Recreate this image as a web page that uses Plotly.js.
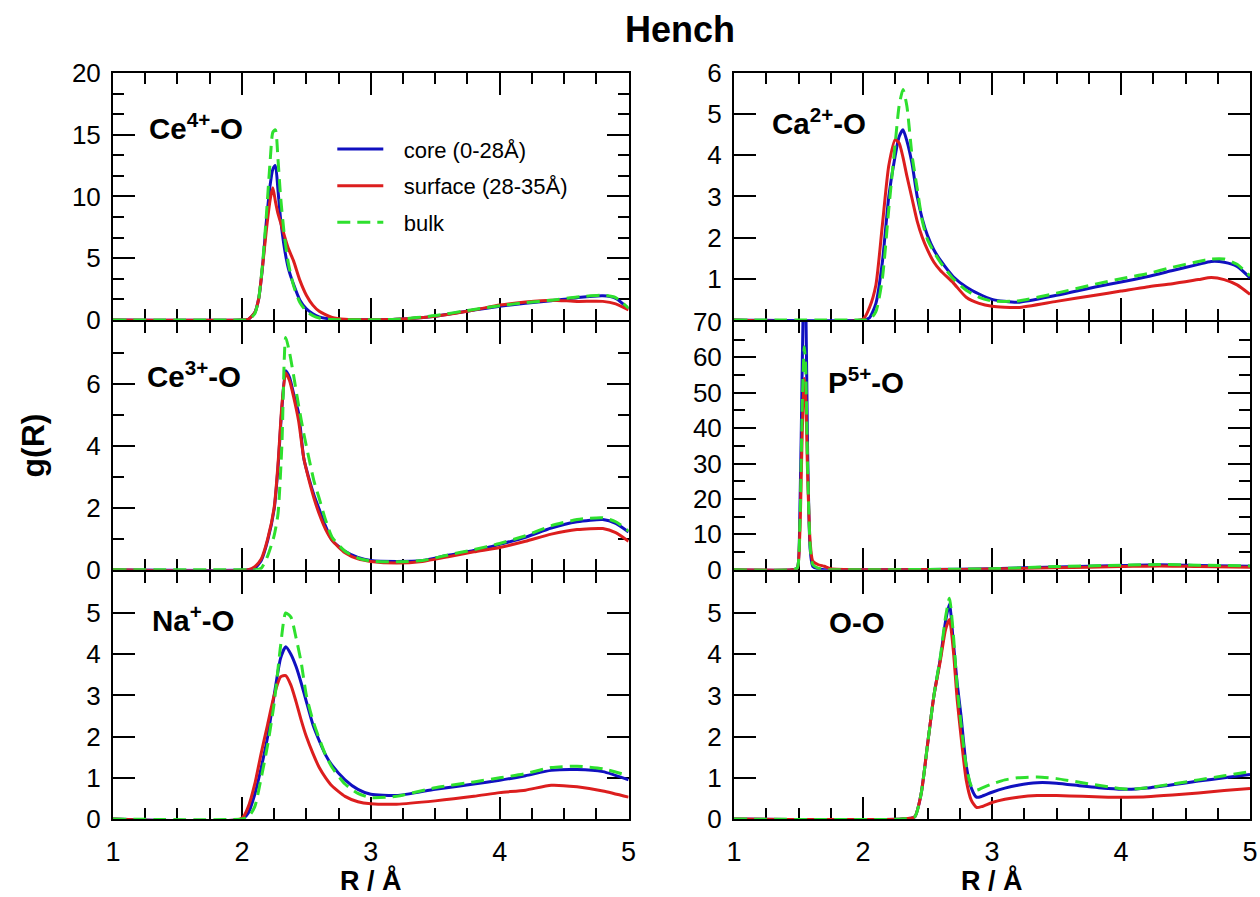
<!DOCTYPE html>
<html><head><meta charset="utf-8">
<script src="https://cdn.plot.ly/plotly-3.0.1.min.js"></script>
<style>html,body{margin:0;padding:0;background:#fff}#chart{width:1260px;height:897px}</style>
</head><body><div id="chart"></div>
<script>
// ---------- DATA ----------
const seriesNames = ['core (0-28Å)', 'surface (28-35Å)', 'bulk'];
const panelLabels = ['<b>Ce<sup>4+</sup>-O</b>', '<b>Ca<sup>2+</sup>-O</b>', '<b>Ce<sup>3+</sup>-O</b>', '<b>P<sup>5+</sup>-O</b>', '<b>Na<sup>+</sup>-O</b>', '<b>O-O</b>'];

// Ce4+-O
const ce4_r    = [1.0, 2.0, 2.05, 2.1, 2.13, 2.16, 2.19, 2.22, 2.24, 2.26, 2.28, 2.3, 2.33, 2.36, 2.4, 2.45, 2.5, 2.55, 2.6, 2.7, 2.8, 3.0, 3.2, 3.5, 3.8, 4.0, 4.2, 4.4, 4.6, 4.8, 4.9, 5.0];
const ce4_core = [0, 0, 0.05, 0.6, 1.7, 4.3, 8.0, 11.0, 12.2, 12.5, 10.5, 8.2, 5.8, 4.2, 2.9, 1.6, 0.9, 0.5, 0.25, 0.06, 0.02, 0.01, 0.05, 0.3, 0.8, 1.1, 1.35, 1.55, 1.8, 1.95, 1.75, 0.9];
const ce4_surf = [0, 0, 0.05, 0.6, 1.7, 4.3, 7.3, 9.8, 10.7, 9.6, 8.6, 7.9, 6.8, 5.8, 4.8, 3.2, 2.0, 1.2, 0.7, 0.2, 0.05, 0.02, 0.05, 0.3, 0.8, 1.2, 1.45, 1.6, 1.5, 1.5, 1.3, 0.8];
const ce4_bulk = [0, 0, 0.02, 0.5, 1.7, 4.5, 8.5, 13.0, 15.2, 15.4, 13.0, 10.0, 6.8, 4.6, 2.8, 1.4, 0.7, 0.35, 0.15, 0.03, 0.01, 0.01, 0.05, 0.35, 0.85, 1.15, 1.4, 1.6, 1.85, 2.0, 1.8, 0.95];

// Ca2+-O
const ca_r    = [1.0, 2.0, 2.05, 2.1, 2.15, 2.2, 2.25, 2.28, 2.31, 2.34, 2.38, 2.42, 2.46, 2.5, 2.55, 2.6, 2.7, 2.8, 2.9, 3.0, 3.2, 3.5, 3.8, 4.0, 4.2, 4.4, 4.6, 4.7, 4.8, 4.9, 5.0];
const ca_core = [0, 0, 0.05, 0.4, 1.4, 3.0, 4.0, 4.45, 4.62, 4.35, 3.8, 3.0, 2.45, 2.05, 1.7, 1.45, 1.05, 0.8, 0.63, 0.5, 0.43, 0.6, 0.8, 0.92, 1.05, 1.2, 1.35, 1.42, 1.4, 1.3, 1.02];
const ca_surf = [0, 0.02, 0.3, 0.85, 2.3, 3.75, 4.38, 4.3, 3.95, 3.5, 2.95, 2.4, 2.0, 1.7, 1.4, 1.2, 0.9, 0.55, 0.4, 0.33, 0.3, 0.45, 0.6, 0.7, 0.8, 0.88, 0.98, 1.03, 0.98, 0.85, 0.62];
const ca_bulk = [0, 0, 0, 0.2, 1.0, 2.7, 4.3, 5.2, 5.6, 5.2, 4.0, 3.2, 2.4, 1.95, 1.65, 1.4, 1.0, 0.72, 0.55, 0.46, 0.46, 0.65, 0.87, 1.0, 1.12, 1.28, 1.42, 1.48, 1.48, 1.35, 1.07];

// Ce3+-O
const ce3_r    = [1.0, 2.05, 2.1, 2.15, 2.2, 2.25, 2.28, 2.31, 2.34, 2.37, 2.4, 2.44, 2.48, 2.52, 2.56, 2.6, 2.65, 2.7, 2.8, 2.9, 3.0, 3.2, 3.4, 3.6, 3.8, 4.0, 4.2, 4.4, 4.6, 4.8, 4.9, 5.0];
const ce3_core = [0, 0, 0.05, 0.3, 0.95, 1.95, 3.3, 5.2, 6.42, 6.2, 5.7, 5.05, 3.6, 2.95, 2.4, 1.95, 1.4, 0.95, 0.6, 0.4, 0.3, 0.27, 0.3, 0.47, 0.62, 0.82, 1.05, 1.35, 1.55, 1.62, 1.5, 1.22];
const ce3_surf = [0, 0, 0.1, 0.35, 1.0, 2.0, 3.4, 5.3, 6.35, 6.1, 5.6, 4.8, 3.6, 2.9, 2.3, 1.8, 1.3, 0.95, 0.55, 0.35, 0.27, 0.22, 0.27, 0.42, 0.58, 0.72, 0.92, 1.15, 1.3, 1.33, 1.2, 0.92];
const ce3_bulk = [0, 0, 0, 0.05, 0.45, 1.1, 1.8, 4.0, 7.5, 7.0, 6.3, 5.3, 4.4, 3.6, 2.85, 2.3, 1.6, 1.05, 0.6, 0.38, 0.28, 0.26, 0.3, 0.48, 0.65, 0.85, 1.1, 1.42, 1.62, 1.68, 1.55, 1.25];

// P5+-O
const p_r    = [1.0, 1.45, 1.49, 1.51, 1.53, 1.545, 1.555, 1.57, 1.59, 1.61, 1.65, 1.7, 1.75, 2.0, 2.5, 3.0, 3.5, 4.0, 4.3, 4.6, 5.0];
const p_core = [0, 0, 0.5, 15, 60, 88, 80, 35, 6, 1, 0.3, 0.05, 0, 0, 0.05, 0.3, 0.8, 1.2, 1.4, 1.2, 1.0];
const p_surf = [0, 0, 0.4, 10, 40, 54, 50, 28, 8, 2.5, 1.5, 1.0, 0.3, 0, 0.05, 0.2, 0.6, 0.9, 1.1, 0.9, 0.7];
const p_bulk = [0, 0, 0.5, 12, 48, 63, 58, 30, 7, 1.5, 0.5, 0.1, 0, 0, 0.1, 0.3, 0.9, 1.3, 1.5, 1.3, 1.1];

// Na+-O
const na_r    = [1.0, 2.0, 2.05, 2.1, 2.15, 2.2, 2.25, 2.3, 2.34, 2.38, 2.42, 2.46, 2.5, 2.55, 2.6, 2.65, 2.7, 2.8, 2.9, 3.0, 3.2, 3.5, 3.8, 4.0, 4.2, 4.4, 4.6, 4.8, 5.0];
const na_core = [0, 0, 0.15, 0.6, 1.25, 2.0, 3.0, 3.9, 4.18, 4.0, 3.7, 3.3, 2.85, 2.3, 1.9, 1.55, 1.3, 0.95, 0.72, 0.6, 0.57, 0.72, 0.85, 0.94, 1.05, 1.18, 1.2, 1.15, 0.95];
const na_surf = [0, 0.02, 0.3, 0.85, 1.6, 2.3, 3.0, 3.45, 3.48, 3.25, 2.85, 2.4, 2.0, 1.6, 1.25, 1.0, 0.8, 0.55, 0.42, 0.37, 0.36, 0.44, 0.55, 0.64, 0.7, 0.82, 0.78, 0.68, 0.53];
const na_bulk = [0, 0, 0.05, 0.3, 1.0, 1.8, 2.8, 4.2, 5.0, 4.9, 4.4, 3.8, 3.0, 2.4, 1.95, 1.55, 1.25, 0.85, 0.62, 0.52, 0.55, 0.76, 0.9, 1.0, 1.1, 1.25, 1.28, 1.22, 1.05];

// O-O
const oo_r    = [1.0, 2.3, 2.4, 2.45, 2.5, 2.55, 2.6, 2.64, 2.67, 2.7, 2.73, 2.76, 2.8, 2.84, 2.88, 2.92, 3.0, 3.1, 3.2, 3.35, 3.5, 3.7, 3.9, 4.05, 4.2, 4.4, 4.6, 4.8, 5.0];
const oo_core = [0, 0, 0.05, 0.6, 1.8, 3.0, 3.9, 4.8, 5.22, 4.3, 3.3, 2.5, 1.3, 0.75, 0.53, 0.55, 0.65, 0.75, 0.82, 0.88, 0.87, 0.8, 0.74, 0.72, 0.75, 0.83, 0.92, 1.0, 1.08];
const oo_surf = [0, 0, 0.05, 0.6, 1.8, 3.0, 3.85, 4.6, 4.84, 4.1, 2.9, 2.0, 0.95, 0.45, 0.28, 0.3, 0.4, 0.48, 0.53, 0.57, 0.57, 0.55, 0.53, 0.53, 0.54, 0.58, 0.63, 0.69, 0.74];
const oo_bulk = [0, 0, 0.05, 0.6, 1.8, 3.0, 3.95, 4.9, 5.36, 4.5, 3.2, 2.3, 1.3, 0.8, 0.7, 0.75, 0.85, 0.95, 1.0, 1.02, 0.98, 0.88, 0.78, 0.72, 0.76, 0.85, 0.95, 1.05, 1.15];

// y-axis ranges and labelled ticks
const yRanges   = [[0,20],[0,6],[0,8],[0,70],[0,6],[0,6]];
const yTickVals = [[0,5,10,15,20],[1,2,3,4,5,6],[0,2,4,6],[0,10,20,30,40,50,60,70],[0,1,2,3,4,5],[0,1,2,3,4,5]];
const yMinorStep = [5/3, null, 1, 5, null, null];
const xTickVals = [1,2,3,4,5];

// ---------- STYLE / LAYOUT ----------
const FONT = 'Liberation Sans, Arial, Helvetica, sans-serif';
const lineStyles = [
  {color:'#1010c0', width:3, dash:'solid'},
  {color:'#dc1e1e', width:3, dash:'solid'},
  {color:'#2ee02e', width:3, dash:'13px,7px'}
];
const panels = [
  {r:ce4_r, ys:[ce4_core, ce4_surf, ce4_bulk]},
  {r:ca_r,  ys:[ca_core,  ca_surf,  ca_bulk]},
  {r:ce3_r, ys:[ce3_core, ce3_surf, ce3_bulk]},
  {r:p_r,   ys:[p_core,   p_surf,   p_bulk]},
  {r:na_r,  ys:[na_core,  na_surf,  na_bulk]},
  {r:oo_r,  ys:[oo_core,  oo_surf,  oo_bulk]}
];

const W = 1260, H = 897;
const LW = 2; // axis line width
const mL = 111.7 + LW/2, mR = W - 1250.7 + LW/2, mT = 71.7 + LW/2, mB = H - 820 + LW/2;
const plotW = W - mL - mR, plotH = H - mT - mB;
const leftDom = [0, (629.3 - LW/2 - mL) / plotW];
const rightDom = [(732.7 + LW/2 - mL) / plotW, 1];
// rows separated by a gap equal to the line width so that adjoining frame lines coincide
const b1 = 820 - 249.3, b2 = 820 - 499.3; // pixel y of row boundaries
const toPaper = y => (H - mB - y) / plotH;
const rowDoms = [
  [toPaper(b2 - LW/2), 1],
  [toPaper(b1 - LW/2), toPaper(b2 + LW/2)],
  [0, toPaper(b1 + LW/2)]
];

const traces = [];
panels.forEach((p, i) => {
  const sfx = i === 0 ? '' : String(i + 1);
  p.ys.forEach((y, k) => {
    traces.push({
      type:'scatter', mode:'lines', x:p.r, y:y,
      xaxis:'x' + sfx, yaxis:'y' + sfx,
      name: '\u2002\u2009' + seriesNames[k], legendgroup: 'g' + k,
      showlegend: i === 0,
      line: Object.assign({shape:'spline', smoothing:0.6}, lineStyles[k]),
      hoverinfo:'skip'
    });
  });
});

const layout = {
  width: W, height: H,
  margin: {l:mL, r:mR, t:mT, b:mB, pad:0},
  paper_bgcolor:'#fff', plot_bgcolor:'#fff',
  font: {family: FONT, color:'#000'},
  showlegend: true,
  title: {text:'<b>Hench</b>', font:{size:36, family:FONT, color:'#000'}, x: 680/W, xanchor:'center', xref:'container', y: 1 - 29/H, yanchor:'middle', yref:'container'},
  legend: {x: (332 - mL)/plotW, y: toPaper(128), xanchor:'left', yanchor:'top',
           bgcolor:'rgba(0,0,0,0)', borderwidth:0, font:{size:22, family:FONT, color:'#000'},
           traceorder:'grouped', tracegroupgap:5, itemwidth:46},
  annotations: [],
  shapes: []
};

for (let i = 0; i < 6; i++) {
  const sfx = i === 0 ? '' : String(i + 1);
  const col = i % 2, row = Math.floor(i / 2);
  const bottom = row === 2;
  layout['xaxis' + sfx] = {
    domain: col === 0 ? leftDom : rightDom,
    anchor: 'y' + sfx, range: [1, 5], tickmode:'array', tickvals: xTickVals,
    ticks:'inside', ticklen:22, tickwidth:2, tickcolor:'#000',
    minor: {dtick:0.25, tick0:1, ticks:'inside', ticklen:11, tickwidth:2, tickcolor:'#000'},
    showline:true, linewidth:LW, linecolor:'#000', mirror:'ticks', layer:'below traces',
    showgrid:false, zeroline:false,
    showticklabels: bottom, ticklabelstandoff: 8,
    tickfont:{size:27, family:FONT, color:'#000'}
  };
  const ya = {
    domain: rowDoms[row], anchor: 'x' + sfx, range: yRanges[i],
    tickmode:'array', tickvals: yTickVals[i],
    ticks:'inside', ticklen:22, tickwidth:2, tickcolor:'#000',
    showline:true, linewidth:LW, linecolor:'#000', mirror:'ticks', layer:'below traces',
    showgrid:false, zeroline:false, ticklabelstandoff: 5,
    tickfont:{size:26, family:FONT, color:'#000'}
  };
  if (yMinorStep[i]) ya.minor = {dtick: yMinorStep[i], tick0:0, ticks:'inside', ticklen:11, tickwidth:2, tickcolor:'#000'};
  layout['yaxis' + sfx] = ya;
}

// panel labels
const labelPos = [[0.066, 0.785], [0.070, 0.805], [0.062, 0.788], [0.178, 0.765], [0.071, 0.812], [0.180, 0.795]];
panelLabels.forEach((t, i) => {
  const sfx = i === 0 ? '' : String(i + 1);
  layout.annotations.push({text:t, xref:'x' + sfx + ' domain', yref:'y' + sfx + ' domain',
    x:labelPos[i][0], y:labelPos[i][1], xanchor:'left', yanchor:'middle', showarrow:false,
    font:{size:29.5, family:FONT, color:'#000'}});
});
// axis titles
['x5', 'x6'].forEach(ax => {
  layout.annotations.push({text:'<b>R / Å</b>', xref: ax + ' domain', yref:'paper', x:0.5, y:toPaper(881),
    xanchor:'center', yanchor:'middle', showarrow:false, font:{size:27, family:FONT, color:'#000'}});
});
layout.annotations.push({text:'<b>g(R)</b>', xref:'paper', yref:'paper', x:(33 - mL)/plotW, y:toPaper(445),
  xanchor:'center', yanchor:'middle', textangle:-90, showarrow:false, font:{size:32, family:FONT, color:'#000'}});

Plotly.newPlot('chart', traces, layout, {displayModeBar:false, staticPlot:true});
</script>
</body></html>
